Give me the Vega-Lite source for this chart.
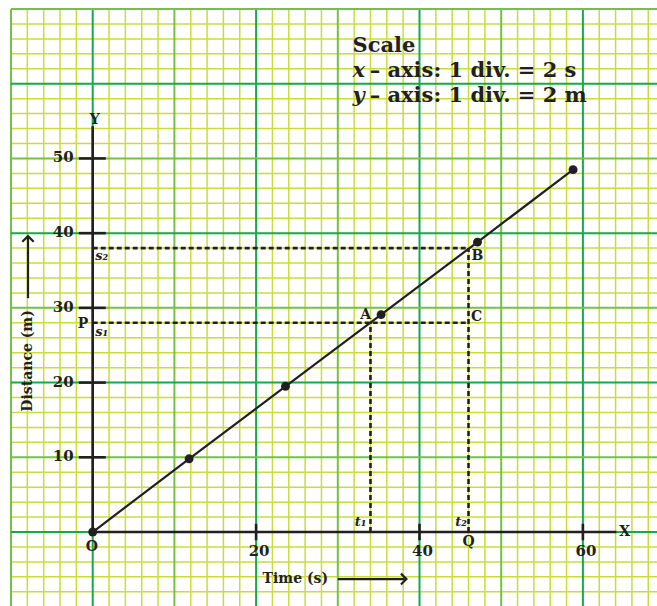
{
  "$schema": "https://vega.github.io/schema/vega-lite/v6.json",
  "width": 646,
  "height": 597,
  "autosize": {"type": "none"},
  "padding": {"left": 11, "top": 9, "right": 0, "bottom": 0},
  "background": "white",
  "config": {
    "view": {"stroke": null},
    "text": {"font": "DejaVu Serif", "fontWeight": "bold", "color": "#231f20"}
  },
  "datasets": {
    "vgrid": [
      {"v": -10, "lvl": "mid"}, {"v": -8, "lvl": "minor"}, {"v": -6, "lvl": "minor"}, {"v": -4, "lvl": "minor"}, {"v": -2, "lvl": "minor"},
      {"v": 0, "lvl": "major"}, {"v": 2, "lvl": "minor"}, {"v": 4, "lvl": "minor"}, {"v": 6, "lvl": "minor"}, {"v": 8, "lvl": "minor"},
      {"v": 10, "lvl": "mid"}, {"v": 12, "lvl": "minor"}, {"v": 14, "lvl": "minor"}, {"v": 16, "lvl": "minor"}, {"v": 18, "lvl": "minor"},
      {"v": 20, "lvl": "major"}, {"v": 22, "lvl": "minor"}, {"v": 24, "lvl": "minor"}, {"v": 26, "lvl": "minor"}, {"v": 28, "lvl": "minor"},
      {"v": 30, "lvl": "mid"}, {"v": 32, "lvl": "minor"}, {"v": 34, "lvl": "minor"}, {"v": 36, "lvl": "minor"}, {"v": 38, "lvl": "minor"},
      {"v": 40, "lvl": "major"}, {"v": 42, "lvl": "minor"}, {"v": 44, "lvl": "minor"}, {"v": 46, "lvl": "minor"}, {"v": 48, "lvl": "minor"},
      {"v": 50, "lvl": "mid"}, {"v": 52, "lvl": "minor"}, {"v": 54, "lvl": "minor"}, {"v": 56, "lvl": "minor"}, {"v": 58, "lvl": "minor"},
      {"v": 60, "lvl": "major"}, {"v": 62, "lvl": "minor"}, {"v": 64, "lvl": "minor"}, {"v": 66, "lvl": "minor"}, {"v": 68, "lvl": "minor"}
    ],
    "hgrid": [
      {"v": -8, "lvl": "minor"}, {"v": -6, "lvl": "minor"}, {"v": -4, "lvl": "minor"}, {"v": -2, "lvl": "minor"},
      {"v": 0, "lvl": "major"}, {"v": 2, "lvl": "minor"}, {"v": 4, "lvl": "minor"}, {"v": 6, "lvl": "minor"}, {"v": 8, "lvl": "minor"},
      {"v": 10, "lvl": "mid"}, {"v": 12, "lvl": "minor"}, {"v": 14, "lvl": "minor"}, {"v": 16, "lvl": "minor"}, {"v": 18, "lvl": "minor"},
      {"v": 20, "lvl": "major"}, {"v": 22, "lvl": "minor"}, {"v": 24, "lvl": "minor"}, {"v": 26, "lvl": "minor"}, {"v": 28, "lvl": "minor"},
      {"v": 30, "lvl": "mid"}, {"v": 32, "lvl": "minor"}, {"v": 34, "lvl": "minor"}, {"v": 36, "lvl": "minor"}, {"v": 38, "lvl": "minor"},
      {"v": 40, "lvl": "major"}, {"v": 42, "lvl": "minor"}, {"v": 44, "lvl": "minor"}, {"v": 46, "lvl": "minor"}, {"v": 48, "lvl": "minor"},
      {"v": 50, "lvl": "mid"}, {"v": 52, "lvl": "minor"}, {"v": 54, "lvl": "minor"}, {"v": 56, "lvl": "minor"}, {"v": 58, "lvl": "minor"},
      {"v": 60, "lvl": "major"}, {"v": 62, "lvl": "minor"}, {"v": 64, "lvl": "minor"}, {"v": 66, "lvl": "minor"}, {"v": 68, "lvl": "minor"},
      {"v": 70, "lvl": "mid"}
    ],
    "points": [
      {"t": 0, "s": 0}, {"t": 11.8, "s": 9.8}, {"t": 23.6, "s": 19.5},
      {"t": 35.3, "s": 29.1}, {"t": 47.1, "s": 38.8}, {"t": 58.8, "s": 48.5}
    ],
    "dashes": [
      {"x": 0, "y": 38, "x2": 46, "y2": 38},
      {"x": 0, "y": 28, "x2": 46, "y2": 28},
      {"x": 34, "y": 0, "x2": 34, "y2": 28},
      {"x": 46, "y": 0, "x2": 46, "y2": 38}
    ],
    "axes": [
      {"x": 0, "y": 0, "x2": 0, "y2": 54.3},
      {"x": 0, "y": 0, "x2": 64.1, "y2": 0}
    ],
    "yticks": [{"d": 10}, {"d": 20}, {"d": 30}, {"d": 40}, {"d": 50}],
    "xticks": [{"d": 20}, {"d": 40}, {"d": 60}],
    "letters": [
      {"x": 33.4, "y": 29.0, "t": "A"},
      {"x": 47.1, "y": 37.0, "t": "B"},
      {"x": 47.0, "y": 28.8, "t": "C"},
      {"x": -1.2, "y": 27.8, "t": "P"},
      {"x": 46.0, "y": -1.4, "t": "Q"},
      {"x": -0.1, "y": -2.0, "t": "O"},
      {"x": 65.1, "y": 0, "t": "X"},
      {"x": 0.25, "y": 55.2, "t": "Y"}
    ],
    "subs": [
      {"x": 1.1, "y": 36.9, "t": "s₂"},
      {"x": 1.1, "y": 26.8, "t": "s₁"},
      {"x": 32.8, "y": 1.35, "t": "t₁"},
      {"x": 45.1, "y": 1.4, "t": "t₂"}
    ],
    "titles": [
      {"x": -7.92, "y": 22.9, "t": "Distance (m)", "a": 270},
      {"x": 24.8, "y": -6.3, "t": "Time (s)", "a": 0}
    ],
    "shafts": [
      {"x": -7.92, "y": 31.3, "x2": -7.92, "y2": 39.4},
      {"x": 30.0, "y": -6.3, "x2": 38.2, "y2": -6.3}
    ],
    "upHead": [{"x": -7.92, "y": 39.6}],
    "rightHead": [{"x": 38.4, "y": -6.3}],
    "scaleHead": [{"x": 31.8, "y": 64.3, "t": "Scale"}],
    "scaleVar": [
      {"x": 31.8, "y": 60.95, "t": "x"},
      {"x": 31.8, "y": 57.6, "t": "y"}
    ],
    "scaleRest": [
      {"x": 33.9, "y": 60.95, "t": "– axis: 1 div. = 2 s"},
      {"x": 33.9, "y": 57.6, "t": "– axis: 1 div. = 2 m"}
    ]
  },
  "layer": [
    {
      "data": {"name": "vgrid"},
      "transform": [{"filter": "datum.lvl == 'minor'"}],
      "mark": {"type": "rule", "color": "#c9dc3c", "strokeWidth": 1.5},
      "encoding": {"x": {"field": "v", "type": "quantitative", "axis": null, "scale": {"domain": [-10, 69.07], "nice": false, "zero": false}}}
    },
    {
      "data": {"name": "hgrid"},
      "transform": [{"filter": "datum.lvl == 'minor'"}],
      "mark": {"type": "rule", "color": "#c9dc3c", "strokeWidth": 1.5},
      "encoding": {"y": {"field": "v", "type": "quantitative", "axis": null, "scale": {"domain": [-9.9, 70], "nice": false, "zero": false}}}
    },
    {
      "data": {"name": "vgrid"},
      "transform": [{"filter": "datum.lvl != 'minor'"}],
      "mark": {"type": "rule", "strokeWidth": 2},
      "encoding": {
        "x": {"field": "v", "type": "quantitative", "axis": null, "scale": {"domain": [-10, 69.07], "nice": false, "zero": false}},
        "color": {"field": "lvl", "type": "nominal", "legend": null, "scale": {"domain": ["mid", "major"], "range": ["#78c043", "#17a84a"]}}
      }
    },
    {
      "data": {"name": "hgrid"},
      "transform": [{"filter": "datum.lvl != 'minor'"}],
      "mark": {"type": "rule", "strokeWidth": 2},
      "encoding": {
        "y": {"field": "v", "type": "quantitative", "axis": null, "scale": {"domain": [-9.9, 70], "nice": false, "zero": false}},
        "color": {"field": "lvl", "type": "nominal", "legend": null, "scale": {"domain": ["mid", "major"], "range": ["#78c043", "#17a84a"]}}
      }
    },
    {
      "data": {"name": "dashes"},
      "mark": {"type": "rule", "color": "#231f20", "strokeWidth": 2.6, "strokeDash": [5, 3]},
      "encoding": {
        "x": {"field": "x", "type": "quantitative", "axis": null, "scale": {"domain": [-10, 69.07], "nice": false, "zero": false}},
        "y": {"field": "y", "type": "quantitative", "axis": null, "scale": {"domain": [-9.9, 70], "nice": false, "zero": false}},
        "x2": {"field": "x2"},
        "y2": {"field": "y2"}
      }
    },
    {
      "data": {"name": "axes"},
      "mark": {"type": "rule", "color": "#231f20", "strokeWidth": 2.6},
      "encoding": {
        "x": {"field": "x", "type": "quantitative", "axis": null, "scale": {"domain": [-10, 69.07], "nice": false, "zero": false}},
        "y": {"field": "y", "type": "quantitative", "axis": null, "scale": {"domain": [-9.9, 70], "nice": false, "zero": false}},
        "x2": {"field": "x2"},
        "y2": {"field": "y2"}
      }
    },
    {
      "data": {"name": "yticks"},
      "mark": {"type": "rule", "color": "#231f20", "strokeWidth": 2.6},
      "encoding": {
        "y": {"field": "d", "type": "quantitative", "axis": null, "scale": {"domain": [-9.9, 70], "nice": false, "zero": false}},
        "x": {"datum": -1.7, "type": "quantitative", "axis": null, "scale": {"domain": [-10, 69.07], "nice": false, "zero": false}},
        "x2": {"datum": 1.6}
      }
    },
    {
      "data": {"name": "xticks"},
      "mark": {"type": "rule", "color": "#231f20", "strokeWidth": 2.6},
      "encoding": {
        "x": {"field": "d", "type": "quantitative", "axis": null, "scale": {"domain": [-10, 69.07], "nice": false, "zero": false}},
        "y": {"datum": -1.1, "type": "quantitative", "axis": null, "scale": {"domain": [-9.9, 70], "nice": false, "zero": false}},
        "y2": {"datum": 1.1}
      }
    },
    {
      "data": {"name": "yticks"},
      "mark": {"type": "text", "fontSize": 15, "align": "right", "baseline": "middle", "dx": -19, "dy": -1},
      "encoding": {
        "y": {"field": "d", "type": "quantitative", "axis": null, "scale": {"domain": [-9.9, 70], "nice": false, "zero": false}},
        "x": {"datum": 0, "type": "quantitative", "axis": null, "scale": {"domain": [-10, 69.07], "nice": false, "zero": false}},
        "text": {"field": "d", "type": "quantitative"}
      }
    },
    {
      "data": {"name": "xticks"},
      "mark": {"type": "text", "fontSize": 15, "align": "center", "baseline": "middle", "dx": 3, "dy": 19},
      "encoding": {
        "x": {"field": "d", "type": "quantitative", "axis": null, "scale": {"domain": [-10, 69.07], "nice": false, "zero": false}},
        "y": {"datum": 0, "type": "quantitative", "axis": null, "scale": {"domain": [-9.9, 70], "nice": false, "zero": false}},
        "text": {"field": "d", "type": "quantitative"}
      }
    },
    {
      "data": {"name": "points"},
      "mark": {"type": "line", "color": "#231f20", "strokeWidth": 2.2},
      "encoding": {
        "x": {"field": "t", "type": "quantitative", "axis": null, "scale": {"domain": [-10, 69.07], "nice": false, "zero": false}},
        "y": {"field": "s", "type": "quantitative", "axis": null, "scale": {"domain": [-9.9, 70], "nice": false, "zero": false}}
      }
    },
    {
      "data": {"name": "points"},
      "mark": {"type": "circle", "color": "#231f20", "opacity": 1, "size": 80},
      "encoding": {
        "x": {"field": "t", "type": "quantitative", "axis": null, "scale": {"domain": [-10, 69.07], "nice": false, "zero": false}},
        "y": {"field": "s", "type": "quantitative", "axis": null, "scale": {"domain": [-9.9, 70], "nice": false, "zero": false}}
      }
    },
    {
      "data": {"name": "shafts"},
      "mark": {"type": "rule", "color": "#231f20", "strokeWidth": 2.2},
      "encoding": {
        "x": {"field": "x", "type": "quantitative", "axis": null, "scale": {"domain": [-10, 69.07], "nice": false, "zero": false}},
        "y": {"field": "y", "type": "quantitative", "axis": null, "scale": {"domain": [-9.9, 70], "nice": false, "zero": false}},
        "x2": {"field": "x2"},
        "y2": {"field": "y2"}
      }
    },
    {
      "data": {"name": "upHead"},
      "mark": {"type": "point", "shape": "M -1 1 L 0 0 L 1 1", "filled": false, "color": "#231f20", "strokeWidth": 2.2, "size": 130, "opacity": 1},
      "encoding": {
        "x": {"field": "x", "type": "quantitative", "axis": null, "scale": {"domain": [-10, 69.07], "nice": false, "zero": false}},
        "y": {"field": "y", "type": "quantitative", "axis": null, "scale": {"domain": [-9.9, 70], "nice": false, "zero": false}}
      }
    },
    {
      "data": {"name": "rightHead"},
      "mark": {"type": "point", "shape": "M -1 -1 L 0 0 L -1 1", "filled": false, "color": "#231f20", "strokeWidth": 2.2, "size": 120, "opacity": 1},
      "encoding": {
        "x": {"field": "x", "type": "quantitative", "axis": null, "scale": {"domain": [-10, 69.07], "nice": false, "zero": false}},
        "y": {"field": "y", "type": "quantitative", "axis": null, "scale": {"domain": [-9.9, 70], "nice": false, "zero": false}}
      }
    },
    {
      "data": {"name": "letters"},
      "mark": {"type": "text", "fontSize": 14, "align": "center", "baseline": "middle"},
      "encoding": {
        "x": {"field": "x", "type": "quantitative", "axis": null, "scale": {"domain": [-10, 69.07], "nice": false, "zero": false}},
        "y": {"field": "y", "type": "quantitative", "axis": null, "scale": {"domain": [-9.9, 70], "nice": false, "zero": false}},
        "text": {"field": "t"}
      }
    },
    {
      "data": {"name": "subs"},
      "mark": {"type": "text", "fontSize": 13, "fontStyle": "italic", "align": "center", "baseline": "middle"},
      "encoding": {
        "x": {"field": "x", "type": "quantitative", "axis": null, "scale": {"domain": [-10, 69.07], "nice": false, "zero": false}},
        "y": {"field": "y", "type": "quantitative", "axis": null, "scale": {"domain": [-9.9, 70], "nice": false, "zero": false}},
        "text": {"field": "t"}
      }
    },
    {
      "data": {"name": "titles"},
      "mark": {"type": "text", "fontSize": 14, "align": "center", "baseline": "middle"},
      "encoding": {
        "x": {"field": "x", "type": "quantitative", "axis": null, "scale": {"domain": [-10, 69.07], "nice": false, "zero": false}},
        "y": {"field": "y", "type": "quantitative", "axis": null, "scale": {"domain": [-9.9, 70], "nice": false, "zero": false}},
        "angle": {"field": "a", "type": "quantitative", "scale": null},
        "text": {"field": "t"}
      }
    },
    {
      "data": {"name": "scaleHead"},
      "mark": {"type": "text", "fontSize": 21, "align": "left", "baseline": "alphabetic"},
      "encoding": {
        "x": {"field": "x", "type": "quantitative", "axis": null, "scale": {"domain": [-10, 69.07], "nice": false, "zero": false}},
        "y": {"field": "y", "type": "quantitative", "axis": null, "scale": {"domain": [-9.9, 70], "nice": false, "zero": false}},
        "text": {"field": "t"}
      }
    },
    {
      "data": {"name": "scaleVar"},
      "mark": {"type": "text", "fontSize": 21, "fontStyle": "italic", "align": "left", "baseline": "alphabetic"},
      "encoding": {
        "x": {"field": "x", "type": "quantitative", "axis": null, "scale": {"domain": [-10, 69.07], "nice": false, "zero": false}},
        "y": {"field": "y", "type": "quantitative", "axis": null, "scale": {"domain": [-9.9, 70], "nice": false, "zero": false}},
        "text": {"field": "t"}
      }
    },
    {
      "data": {"name": "scaleRest"},
      "mark": {"type": "text", "fontSize": 21, "align": "left", "baseline": "alphabetic"},
      "encoding": {
        "x": {"field": "x", "type": "quantitative", "axis": null, "scale": {"domain": [-10, 69.07], "nice": false, "zero": false}},
        "y": {"field": "y", "type": "quantitative", "axis": null, "scale": {"domain": [-9.9, 70], "nice": false, "zero": false}},
        "text": {"field": "t"}
      }
    }
  ]
}
